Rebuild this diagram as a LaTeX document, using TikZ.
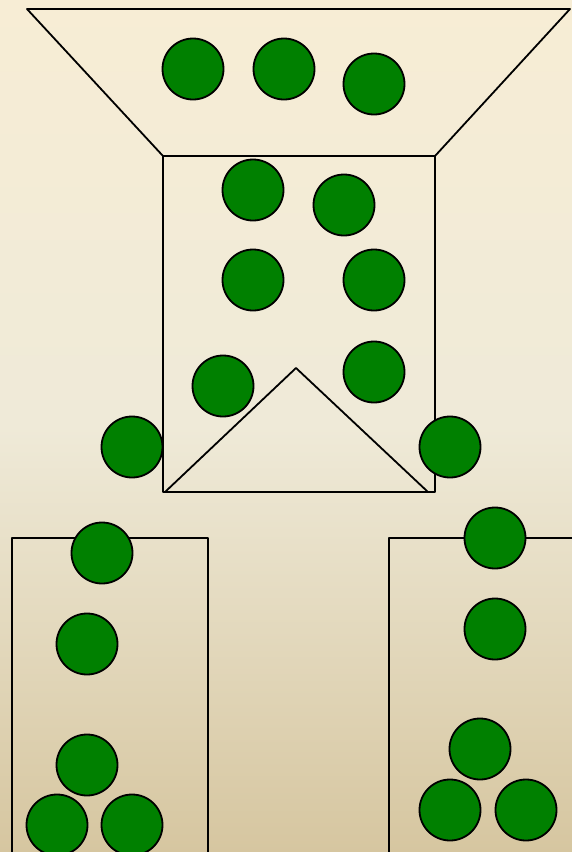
\documentclass[tikz,border=0pt]{standalone}
\usepackage{tikz}

\definecolor{bgtop}{RGB}{247,237,213}
\definecolor{bgmid}{RGB}{239,234,216}
\definecolor{bgbot}{RGB}{214,198,160}
\definecolor{ballgreen}{RGB}{0,128,0}

\begin{document}
\begin{tikzpicture}[
    x=1pt, y=-1pt,
    outline/.style={draw=black, line width=1.8pt, line join=round},
    ball/.style={circle, draw=black, line width=1.8pt, fill=ballgreen, minimum size=61pt, inner sep=0pt}
  ]
    % background
    \useasboundingbox (0,0) rectangle (572,852);
    \shade[top color=bgtop, bottom color=bgmid] (0,0) rectangle (572,426);
    \shade[top color=bgmid, bottom color=bgbot] (0,426) rectangle (572,852);

    % funnel, chamber and splitter
    \draw[outline] (163,156) -- (27,9) -- (570,9) -- (435,156);
    \draw[outline] (163,156) rectangle (435,492);
    \draw[outline] (165,492) -- (296,368) -- (428,492);

    % bins
    \draw[outline] (12,860) -- (12,538) -- (208,538) -- (208,860);
    \draw[outline] (389,860) -- (389,538) -- (580,538);

    % balls
    \foreach \name/\bx/\by in {
        f1/193/69, f2/284/69, f3/374/84,
        c1/253/190, c2/344/205, c3/253/280, c4/374/280, c5/223/386, c6/374/372,
        o1/132/447, o2/450/447,
        l1/102/553, l2/87/644, l3/87/765, l4/57/825, l5/132/825,
        r1/495/538, r2/495/629, r3/480/749, r4/450/810, r5/526/810}
      \node[ball] (\name) at (\bx,\by) {};
\end{tikzpicture}
\end{document}
